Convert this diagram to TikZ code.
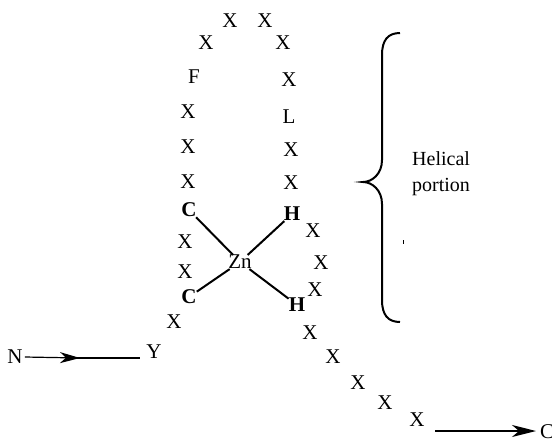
\documentclass[tikz,border=0pt]{standalone}
\usepackage{fontspec}
\setmainfont{Liberation Serif}
\usetikzlibrary{arrows.meta}
\begin{document}
\begin{tikzpicture}[x=1pt,y=-1pt,
  res/.style={inner sep=0pt,font=\fontsize{21}{24}\selectfont},
  lig/.style={inner sep=0pt,font=\fontsize{21}{24}\selectfont\bfseries},
  bond/.style={line width=2pt},
  lbl/.style={inner sep=0pt,font=\fontsize{20}{26}\selectfont,align=left,anchor=west}]
\useasboundingbox (0,0) rectangle (552,440);
% left strand
\node[res] (x1) at (230,21) {X};
\node[res] (x2) at (265,21) {X};
\node[res] (x3) at (206,43) {X};
\node[res] (x4) at (283,43) {X};
\node[res] (f)  at (194,77) {F};
\node[res] (x5) at (289,80) {X};
\node[res] (x6) at (188,112) {X};
\node[res] (l)  at (289,117) {L};
\node[res] (x7) at (188,147) {X};
\node[res] (x8) at (291,150) {X};
\node[res] (x9) at (188,182) {X};
\node[res] (x10) at (291,183) {X};
\node[lig] (c1) at (189,210) {C};
\node[lig] (h1) at (292,214) {H};
\node[res] (x11) at (313,231) {X};
\node[res] (x12) at (185,242) {X};
\node[res] (zn) at (240,262) {Zn};
\node[res] (x13) at (321,263) {X};
\node[res] (x14) at (185,272) {X};
\node[res] (x15) at (315,290) {X};
\node[lig] (c2) at (189,297) {C};
\node[lig] (h2) at (297,305) {H};
\node[res] (x16) at (174,322) {X};
\node[res] (y)  at (154,352) {Y};
\node[res] (n)  at (15,357) {N};
\node[res] (x17) at (310,333) {X};
\node[res] (x18) at (333,357) {X};
\node[res] (x19) at (358,383) {X};
\node[res] (x20) at (385,403) {X};
\node[res] (x21) at (417,420) {X};
\node[res,anchor=west] (cterm) at (540,432) {C};
% zinc bonds
\draw[bond,shorten <=0pt,shorten >=0pt] (c1) -- (zn);
\draw[bond,shorten <=0pt,shorten >=0pt] (h1) -- (zn);
\draw[bond,shorten <=0pt,shorten >=0pt] (c2) -- (zn);
\draw[bond,shorten <=0pt,shorten >=0pt] (h2) -- (zn);
% N-terminal arrow
\coordinate (nmid) at (80,358);
\draw[line width=1.2pt,-{Stealth[length=20pt,width=11pt,inset=6pt]}] (n.east) ++(2,0) -- (nmid);
\draw[line width=2.4pt,shorten >=6pt] (nmid) ++(-4,0) -- (y.west |- nmid);
% C-terminal arrow
\coordinate (cstart) at (435,431);
\draw[line width=1.6pt,-{Stealth[length=24pt,width=12pt,inset=7pt]}] (cstart) -- ([xshift=-4pt]cterm.west |- cstart);
% brace
\draw[line width=2pt] (400,33) .. controls (388,33) and (382,40) .. (382,55)
  -- (382,160) .. controls (382,174) and (372,182) .. (363,182)
  .. controls (372,182) and (382,190) .. (382,204)
  -- (382,300) .. controls (382,315) and (388,322) .. (400,322);
\node[lbl] (hel) at (412,174) {Helical\\portion};
\draw[line width=0.8pt] (403,240) -- (403,244);
\end{tikzpicture}
\end{document}
